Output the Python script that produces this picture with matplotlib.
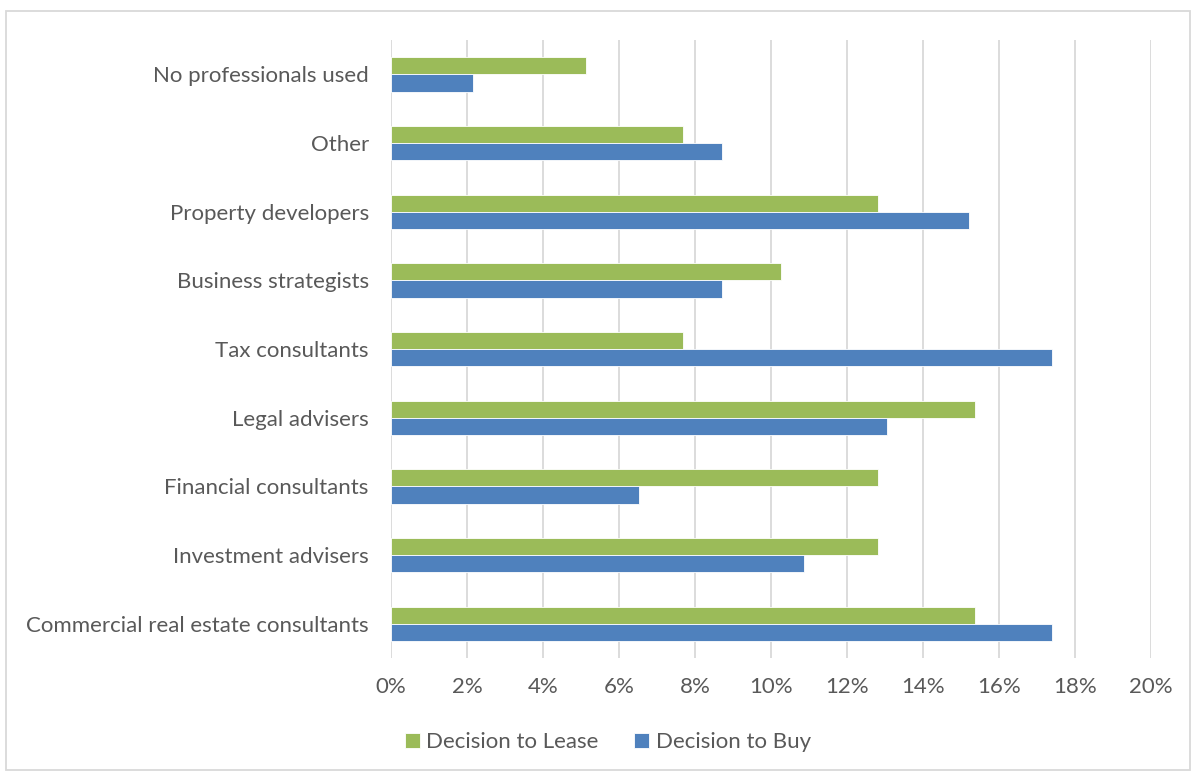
import numpy as np
import matplotlib.pyplot as plt
from matplotlib.patches import Rectangle
from matplotlib.ticker import PercentFormatter

# categories listed bottom to top
categories = [
    "Commercial real estate consultants",
    "Investment advisers",
    "Financial consultants",
    "Legal advisers",
    "Tax consultants",
    "Business strategists",
    "Property developers",
    "Other",
    "No professionals used",
]
lease = [15.38, 12.82, 12.82, 15.38, 7.69, 10.26, 12.82, 7.69, 5.13]
buy = [17.39, 10.87, 6.52, 13.04, 17.39, 8.70, 15.22, 8.70, 2.17]

plt.rcParams['font.family'] = ['Lato', 'DejaVu Sans']
text_col = "#595959"
green = "#9BBB59"
blue = "#4F81BD"

fig = plt.figure(figsize=(11.95, 7.74), dpi=100)
ax = fig.add_axes([391 / 1195, 1 - 658 / 774, 760 / 1195, 618 / 774])

y = np.arange(len(categories))
h = 0.25
ax.barh(y + h / 2, lease, height=h, color=green, edgecolor="white", linewidth=0.6,
        label="Decision to Lease", zorder=3)
ax.barh(y - h / 2, buy, height=h, color=blue, edgecolor="white", linewidth=0.6,
        label="Decision to Buy", zorder=3)

ax.set_xlim(0, 20)
ax.set_ylim(-0.5, len(categories) - 0.5)
ax.set_xticks(np.arange(0, 21, 2))
ax.xaxis.set_major_formatter(PercentFormatter(decimals=0))
ax.set_yticks(y)
ax.set_yticklabels(categories)
ax.grid(axis="x", color="#D9D9D9", linewidth=1.3, zorder=0)
for s in ax.spines.values():
    s.set_visible(False)
ax.tick_params(axis="both", length=0, labelsize=16, colors=text_col)
ax.tick_params(axis="x", pad=14)
ax.tick_params(axis="y", pad=16)

ax.legend(loc="center", bbox_to_anchor=(608 / 1195, 1 - 742 / 774),
          bbox_transform=fig.transFigure, ncol=2, frameon=False, fontsize=16,
          labelcolor=text_col, handlelength=0.65, handleheight=0.65,
          handletextpad=0.3, columnspacing=1.6)

fig.patches.append(Rectangle((6 / 1195, 1 - 770 / 774), 1184 / 1195, 759 / 774,
                             transform=fig.transFigure, fill=False,
                             edgecolor="#D9D9D9", linewidth=1.3))

fig.savefig("out.png", dpi=100)
